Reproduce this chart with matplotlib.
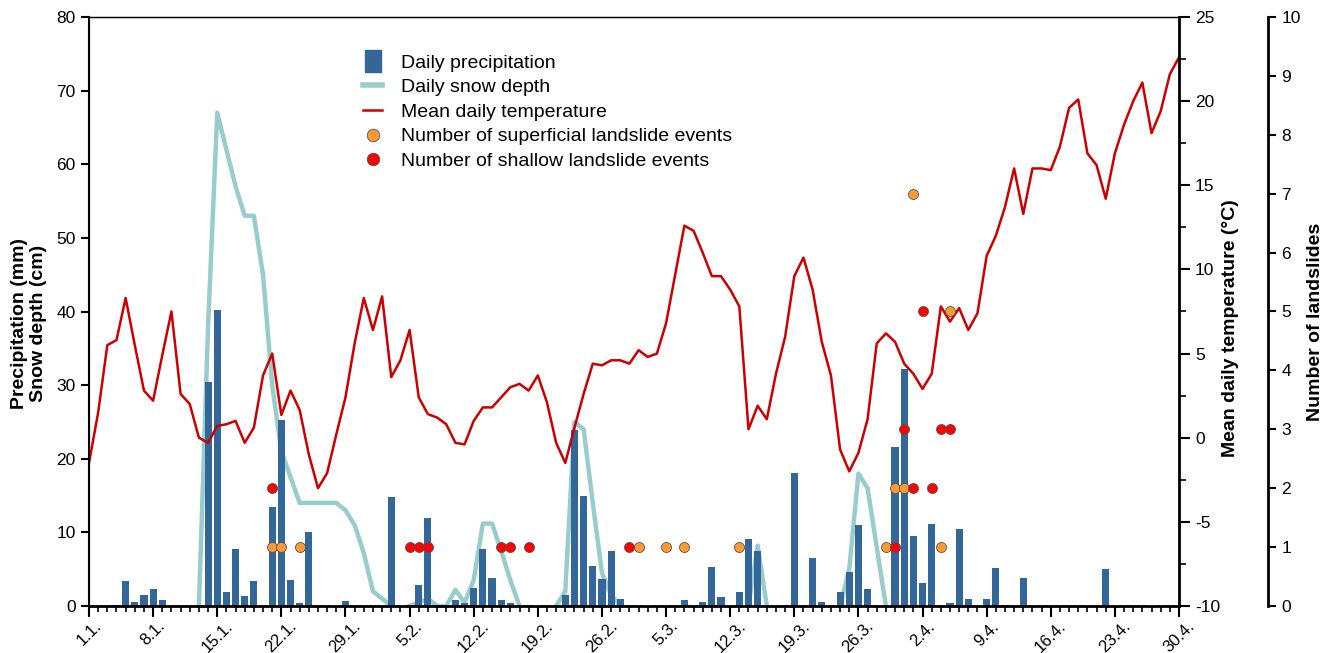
import numpy as np
import matplotlib
matplotlib.use('Agg')
import matplotlib.pyplot as plt
from matplotlib.lines import Line2D
from matplotlib.ticker import MultipleLocator

plt.rcParams['font.family'] = ['Liberation Sans', 'DejaVu Sans']
plt.rcParams['axes.unicode_minus'] = False

# Daily series, 1 January to 30 April (day 0 = 1.1.)
days = np.arange(120)

precip = [0, 0, 0, 0.15, 3.35, 0.55, 1.45, 2.25, 0.8, 0,
          0, 0, 0, 30.4, 40.2, 1.95, 7.75, 1.35, 3.35, 0,
          13.5, 25.2, 3.5, 0.35, 10.1, 0, 0, 0, 0.65, 0,
          0, 0, 0, 14.8, 0, 0, 2.8, 11.9, 0, 0,
          0.8, 0.45, 2.45, 7.7, 3.85, 0.8, 0.45, 0, 0.1, 0,
          0, 0, 1.5, 23.9, 14.95, 5.5, 3.7, 7.5, 0.9, 0,
          0, 0, 0, 0, 0, 0.8, 0, 0.5, 5.3, 1.2,
          0, 1.85, 9.15, 7.5, 0, 0, 0.1, 18.1, 0, 6.5,
          0.55, 0, 1.95, 4.65, 10.95, 2.25, 0, 0, 21.6, 32.2,
          9.45, 3.15, 11.2, 0, 0.45, 10.45, 0.95, 0, 0.95, 5.1,
          0.1, 0, 3.8, 0.05, 0, 0, 0, 0, 0, 0,
          0, 5.0, 0, 0, 0, 0, 0, 0.05, 0, 0]

nan = np.nan
snow = [nan, nan, nan, nan, nan, nan, nan, nan, nan, nan,
        nan, nan, 0, 38, 67, 62, 57, 53, 53, 45,
        30, 21, 17.5, 14, 14, 14, 14, 14, 13, 11,
        7.2, 2, 1, 0, nan, 0, 0.5, 1, 0, 0,
        2.2, 0.45, 3.5, 11.2, 11.2, 7.5, 3.5, 0, nan, nan,
        nan, 0, 2, 25, 24, 14, 4.5, 1.5, 0, nan,
        nan, nan, nan, nan, nan, nan, nan, nan, nan, nan,
        nan, nan, 0, 8.2, 0, nan, nan, nan, nan, nan,
        nan, nan, 0, 5, 18, 16, 8, 0, nan, nan,
        nan, nan, nan, nan, nan, nan, nan, nan, nan, nan,
        nan, nan, nan, nan, nan, nan, nan, nan, nan, nan,
        nan, nan, nan, nan, nan, nan, nan, nan, nan, nan]

temp = [-1.5, 1.5, 5.5, 5.8, 8.3, 5.5, 2.8, 2.2, 4.9, 7.5,
        2.6, 2.0, 0.0, -0.3, 0.7, 0.8, 1.0, -0.3, 0.6, 3.7,
        5.0, 1.35, 2.8, 1.65, -1.0, -3.0, -2.1, 0.2, 2.4, 5.6,
        8.3, 6.4, 8.4, 3.6, 4.6, 6.4, 2.4, 1.4, 1.2, 0.8,
        -0.3, -0.4, 1.0, 1.8, 1.8, 2.4, 3.0, 3.2, 2.8, 3.7,
        2.1, -0.3, -1.5, 0.6, 2.6, 4.4, 4.3, 4.6, 4.6, 4.4,
        5.2, 4.8, 5.0, 6.8, 9.7, 12.6, 12.3, 11.0, 9.6, 9.6,
        8.8, 7.8, 0.5, 1.9, 1.1, 3.8, 6.0, 9.6, 10.7, 8.8,
        5.7, 3.7, -0.7, -2.0, -0.9, 1.1, 5.6, 6.2, 5.7, 4.4,
        3.8, 2.9, 3.8, 7.8, 6.9, 7.7, 6.4, 7.4, 10.8, 12.0,
        13.7, 16.0, 13.3, 16.0, 16.0, 15.9, 17.3, 19.6, 20.1, 16.9,
        16.2, 14.2, 16.9, 18.6, 20.0, 21.1, 18.1, 19.4, 21.6, 22.6]

superficial_days = [20, 21, 23, 60, 63, 65, 71, 87, 88, 89, 90, 93, 94]
superficial_counts = [1, 1, 1, 1, 1, 1, 1, 1, 2, 2, 7, 1, 5]
shallow_days = [20, 35, 36, 37, 45, 46, 48, 59, 88, 89, 90, 91, 92, 93, 94]
shallow_counts = [2, 1, 1, 1, 1, 1, 1, 1, 1, 3, 2, 5, 2, 3, 3]

tick_days = list(range(0, 120, 7))
tick_labels = ['1.1.', '8.1.', '15.1.', '22.1.', '29.1.', '5.2.', '12.2.',
               '19.2.', '26.2.', '5.3.', '12.3.', '19.3.', '26.3.', '2.4.',
               '9.4.', '16.4.', '23.4.', '30.4.']

BAR = '#336699'
SNOW = '#99CCCC'
TEMP = '#CC0000'
ORANGE = '#FF9933'
RED = '#FF0000'

fig = plt.figure(figsize=(13.38, 6.53), dpi=100)
ax = fig.add_axes([89 / 1338, 1 - 606 / 653, 1090 / 1338, 589 / 653])

ax.plot(days, snow, color=SNOW, lw=3.2, zorder=1)
ax.bar(days, precip, width=0.78, color=BAR, zorder=2)
ax.set_xlim(0, 119)
ax.set_ylim(0, 80)
ax.set_yticks(range(0, 81, 10))
ax.set_xticks(tick_days, tick_labels, rotation=45, ha='center', va='top')
ax.xaxis.set_minor_locator(MultipleLocator(1))
ax.tick_params(axis='x', which='major', length=8, width=1.5, labelsize=12, pad=1)
ax.tick_params(axis='x', which='minor', length=4, width=1.2)
ax.tick_params(axis='y', length=6, width=1.5, labelsize=12.5)
ax.spines['bottom'].set_linewidth(2)
ax.spines['left'].set_linewidth(1.5)
ax.spines['top'].set_linewidth(1)

# temperature axis
ax2 = ax.twinx()
ax2.plot(days, temp, color=TEMP, lw=1.8)
ax2.set_ylim(-10, 25)
ax2.set_yticks(range(-10, 26, 5))
ax2.yaxis.set_minor_locator(MultipleLocator(2.5))
ax2.tick_params(axis='y', which='major', length=8, width=1.5, labelsize=12.5)
ax2.tick_params(axis='y', which='minor', length=5, width=1.2)
ax2.spines['right'].set_linewidth(2)

# landslide count axis, offset to the right
ax3 = ax.twinx()
ax3.spines['right'].set_position(('axes', 1 + 89 / 1090))
for side in ['left', 'top', 'bottom']:
    ax3.spines[side].set_visible(False)
ax3.spines['right'].set_linewidth(2)
ax3.plot(superficial_days, superficial_counts, 'o', ls='none', ms=7.2,
         mfc=ORANGE, mec='#555555', mew=0.6)
ax3.plot(shallow_days, shallow_counts, 'o', ls='none', ms=7.2,
         mfc=RED, mec='#555555', mew=0.6)
ax3.set_ylim(0, 10)
ax3.set_yticks(range(0, 11))
ax3.tick_params(axis='y', length=6, width=1.5, labelsize=12.5)

# axis titles
ax.text(-0.055, 0.48, 'Precipitation (mm)\nSnow depth (cm)', transform=ax.transAxes,
        rotation=90, ha='center', va='center', fontsize=14, fontweight='bold',
        linespacing=1.15)
ax.text(1.0468, 0.472, 'Mean daily temperature (°C)', transform=ax.transAxes,
        rotation=90, ha='center', va='center', fontsize=14, fontweight='bold')
ax.text(1.1248, 0.482, 'Number of landslides', transform=ax.transAxes,
        rotation=90, ha='center', va='center', fontsize=14, fontweight='bold')

# legend
bar_marker = [(-0.36, -0.5), (0.36, -0.5), (0.36, 0.5), (-0.36, 0.5), (-0.36, -0.5)]
handles = [
    Line2D([], [], ls='none', marker=bar_marker, ms=16, color=BAR),
    Line2D([], [], color=SNOW, lw=4),
    Line2D([], [], color=TEMP, lw=1.8),
    Line2D([], [], ls='none', marker='o', ms=9, mfc=ORANGE, mec='#555555', mew=0.6),
    Line2D([], [], ls='none', marker='o', ms=9, mfc=RED, mec='#555555', mew=0.6),
]
labels = ['Daily precipitation', 'Daily snow depth', 'Mean daily temperature',
          'Number of superficial landslide events', 'Number of shallow landslide events']
fig.legend(handles, labels, loc='upper left', bbox_to_anchor=(363 / 1338, 1 - 54 / 653),
           bbox_transform=fig.transFigure, frameon=False, fontsize=14,
           handlelength=1.0, handletextpad=0.93, labelspacing=0.36,
           borderpad=0, borderaxespad=0)

fig.savefig('out.png', dpi=100)
